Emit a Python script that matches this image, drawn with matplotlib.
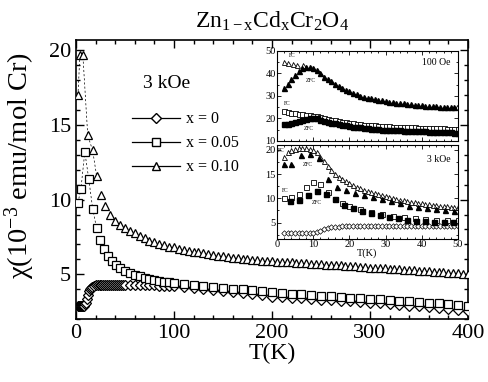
import matplotlib
matplotlib.use("Agg")
import matplotlib.pyplot as plt
from matplotlib.ticker import MultipleLocator
from matplotlib.lines import Line2D

plt.rcParams['font.family'] = ['Liberation Serif', 'DejaVu Serif']
plt.rcParams['mathtext.fontset'] = 'custom'
plt.rcParams['mathtext.rm'] = 'Liberation Serif'
plt.rcParams['mathtext.it'] = 'Liberation Serif:italic'

# ---------------- main panel data (3 kOe) ----------------
T_x0 = [2, 3, 4, 5, 6, 7, 8, 9, 10, 11, 12, 13, 14, 15, 16, 18, 20, 22, 24, 26, 28, 30,
        32, 34, 36, 38, 40, 42, 44, 46, 48, 50, 55, 60, 65, 70, 75, 80, 85, 90, 95, 100,
        110, 120, 130, 140, 150, 160, 170, 180, 190, 200, 210, 220, 230, 240, 250, 260,
        270, 280, 290, 300, 310, 320, 330, 340, 350, 360, 370, 380, 390, 400]
chi_x0 = [2.9, 2.85, 2.85, 2.85, 2.85, 2.9, 2.9, 3.0, 3.1, 3.35, 3.6, 3.85, 4.0, 4.1, 4.15,
          4.2, 4.25, 4.28, 4.3, 4.3, 4.3, 4.3, 4.3, 4.3, 4.3, 4.3, 4.3, 4.3, 4.3, 4.3, 4.3,
          4.3, 4.3, 4.3, 4.3, 4.3, 4.28, 4.26, 4.24, 4.22, 4.2, 4.18,
          4.12, 4.06, 4.0, 3.93, 3.86, 3.79, 3.72, 3.65, 3.58, 3.5, 3.46, 3.42, 3.38, 3.34,
          3.3, 3.26, 3.22, 3.18, 3.14, 3.1, 3.05, 3.0, 2.95, 2.9, 2.85, 2.8, 2.74, 2.68,
          2.62, 2.56]

T_x05 = [2, 5, 9, 13, 17, 21, 25, 29, 33, 37, 41, 45, 50, 55, 60, 65, 70, 75, 80, 85, 90,
         95, 100, 110, 120, 130, 140, 150, 160, 170, 180, 190, 200, 210, 220, 230, 240,
         250, 260, 270, 280, 290, 300, 310, 320, 330, 340, 350, 360, 370, 380, 390, 400]
chi_x05 = [9.8, 10.7, 13.2, 11.4, 9.4, 8.1, 7.3, 6.7, 6.25, 5.9, 5.65, 5.45, 5.25, 5.1,
           4.97, 4.87, 4.78, 4.7, 4.63, 4.57, 4.51, 4.46, 4.42, 4.35, 4.28, 4.22, 4.16,
           4.1, 4.04, 3.98, 3.92, 3.86, 3.8, 3.75, 3.7, 3.65, 3.6, 3.56, 3.52, 3.48, 3.44,
           3.4, 3.36, 3.32, 3.28, 3.24, 3.2, 3.15, 3.1, 3.05, 3.0, 2.95, 2.9]

T_x10 = [2, 4, 7, 12, 17, 21, 26, 30, 35, 40, 45, 50, 55, 60, 65, 70, 75, 80, 85, 90, 95,
         100, 105, 110, 115, 120, 125, 130, 135, 140, 145, 150, 155, 160, 165, 170, 175,
         180, 185, 190, 195, 200, 205, 210, 215, 220, 225, 230, 235, 240, 245, 250, 255,
         260, 265, 270, 275, 280, 285, 290, 295, 300, 305, 310, 315, 320, 325, 330, 335,
         340, 345, 350, 355, 360, 365, 370, 375, 380, 385, 390, 395, 400]
chi_x10 = [17.0, 19.7, 19.7, 14.3, 13.3, 11.6, 10.3, 9.6, 9.0, 8.6, 8.3, 8.1, 7.9, 7.75,
           7.55, 7.4, 7.25, 7.15, 7.05, 6.95, 6.85,
           6.80, 6.72, 6.65, 6.58, 6.52, 6.46, 6.40, 6.35, 6.30, 6.25, 6.20, 6.16, 6.12,
           6.08, 6.04, 6.01, 5.98, 5.95, 5.92, 5.89, 5.87,
           5.85, 5.83, 5.81, 5.79, 5.77, 5.75, 5.73, 5.71, 5.69, 5.67, 5.65, 5.63, 5.61,
           5.59, 5.57, 5.55, 5.53, 5.51, 5.48, 5.45,
           5.43, 5.41, 5.39, 5.37, 5.35, 5.33, 5.31, 5.29, 5.27, 5.25, 5.22, 5.20, 5.18,
           5.15, 5.13, 5.11, 5.08, 5.06, 5.03, 5.0]

legend_labels = ['x = 0', 'x = 0.05', 'x = 0.10']

# ---------------- inset, 100 Oe ----------------
T_i1 = [2, 3, 4, 5, 6, 7, 8, 9, 10, 11, 12, 13, 14, 15, 16, 17, 18, 19, 20, 21, 22, 23, 24,
        25, 26, 27, 28, 29, 30, 31, 32, 33, 34, 35, 36, 37, 38, 39, 40, 41, 42, 43, 44, 45,
        46, 47, 48, 49]
zfc_tri_100 = [33.5, 35.5, 37.5, 39.5, 41, 42.3, 43, 43, 42.5, 41.5, 40, 38.5, 37.5, 36.5,
               35.5, 34.5, 33.5, 32.8, 32, 31.3, 30.7, 30.2, 29.7, 29.3, 29, 28.7, 28.4,
               28.1, 27.8, 27.5, 27.3, 27.1, 26.9, 26.7, 26.5, 26.3, 26.1, 26.0, 25.8,
               25.7, 25.6, 25.5, 25.4, 25.3, 25.2, 25.1, 25.0, 24.9]
T_fc_tri_100 = [1.8, 3.0, 4.3, 5.6, 7.2, 49.8]
fc_tri_100 = [45.2, 44.6, 44.2, 43.6, 43.6, 25.2]

T_i1s = [2, 3, 4, 5, 6, 7, 8, 9, 10, 11, 12, 13, 14, 15, 16, 17, 18, 19, 20, 21, 22, 23,
         24, 25, 26, 27, 28, 29, 30, 31, 32, 33, 34, 35, 36, 37, 38, 39, 40, 41, 42, 43,
         44, 45, 46, 47, 48, 49, 50]
fc_sq_100 = [23.5, 23.0, 22.6, 22.3, 22.1, 21.9, 21.7, 21.5, 21.3, 21.0, 20.6, 20.2, 19.8,
             19.5, 19.2, 18.9, 18.6, 18.3, 18.1, 17.9, 17.7, 17.5, 17.3, 17.1, 17.0, 16.9,
             16.8, 16.7, 16.6, 16.5, 16.4, 16.35, 16.3, 16.2, 16.15, 16.1, 16.0, 15.95,
             15.9, 15.85, 15.8, 15.75, 15.7, 15.65, 15.6, 15.55, 15.5, 15.45, 15.4]
zfc_sq_100 = [17.5, 17.7, 18.0, 18.4, 18.8, 19.2, 19.6, 20.0, 20.3, 20.0, 19.5, 19.0, 18.5,
              18.1, 17.8, 17.5, 17.2, 16.9, 16.6, 16.4, 16.2, 16.0, 15.8, 15.6, 15.45,
              15.3, 15.2, 15.1, 15.0, 14.9, 14.8, 14.75, 14.7, 14.6, 14.55, 14.5, 14.4,
              14.35, 14.3, 14.25, 14.2, 14.1, 14.05, 14.0, 13.95, 13.9, 13.8, 13.75, 13.7]

# ---------------- inset, 3 kOe ----------------
T_i2 = [2, 3, 4, 5, 6, 7, 8, 9, 10, 11, 12, 13, 14, 15, 16, 17, 18, 19, 20, 21, 22, 23,
        24, 25, 26, 27, 28, 29, 30, 31, 32, 33, 34, 35, 36, 37, 38, 39, 40, 41, 42, 43,
        44, 45, 46, 47, 48, 49, 50]
fc_tri_3k = [18.6, 19.5, 20.0, 20.2, 20.3, 20.3, 20.3, 20.2, 20.0, 19.5, 18.6, 17.6, 16.6,
             15.8, 15.1, 14.5, 14.0, 13.5, 13.1, 12.7, 12.4, 12.1, 11.8, 11.5, 11.3, 11.0,
             10.8, 10.6, 10.4, 10.2, 10.05, 9.9, 9.75, 9.6, 9.45, 9.3, 9.2, 9.1, 9.0, 8.9,
             8.8, 8.7, 8.6, 8.5, 8.45, 8.4, 8.3, 8.25, 8.2]
dia_3k = [2.9, 2.9, 2.9, 2.9, 2.9, 2.9, 2.9, 2.9, 2.9, 3.0, 3.3, 3.7, 3.95, 4.05, 4.1, 4.15,
          4.2, 4.2, 4.2, 4.2, 4.2, 4.2, 4.2, 4.2, 4.2, 4.2, 4.2, 4.2, 4.2, 4.2, 4.2, 4.2,
          4.2, 4.2, 4.2, 4.2, 4.2, 4.2, 4.2, 4.2, 4.2, 4.2, 4.2, 4.2, 4.2, 4.2, 4.2, 4.2,
          4.2]
T_zfc_tri_3k = [2, 4, 6.5, 9, 11.5, 14, 16.5, 19, 21.5, 24, 26.5, 29, 31.5, 34, 36.5, 39,
                41.5, 44, 46.5, 49]
zfc_tri_3k = [17.0, 17.0, 19.0, 19.1, 18.3, 14.0, 12.4, 11.7, 11.1, 10.6, 10.2, 9.8, 9.4,
              9.0, 8.5, 8.2, 7.9, 7.7, 7.5, 7.3]
T_fc_sq_3k = [2, 4, 6, 8, 10, 12, 14, 16, 18, 20, 23, 26, 29, 32, 35, 38, 41, 44, 47, 50]
fc_sq_3k = [10.0, 10.2, 10.9, 12.4, 13.4, 13.0, 11.2, 9.9, 9.0, 8.5, 7.8, 7.2, 6.8, 6.4,
            6.1, 5.9, 5.75, 5.6, 5.55, 5.5]
T_zfc_sq_3k = [3.5, 6, 8.5, 11, 13.5, 16, 18.5, 21, 23.5, 26, 28.5, 31, 33.5, 36, 38.5, 41,
               43.5, 46, 48.5]
zfc_sq_3k = [9.5, 9.7, 10.6, 11.6, 10.8, 9.8, 8.7, 8.0, 7.4, 7.0, 6.6, 6.2, 5.9, 5.6, 5.4,
             5.3, 5.2, 5.15, 5.1]

# ---------------- figure ----------------
fig = plt.figure(figsize=(4.89, 3.82), dpi=100)
ax = fig.add_axes([0.1554, 0.1649, 0.8016, 0.7304])

mk = dict(mfc='white', mec='black', mew=0.9, ls='none')
ax.plot(T_x0, chi_x0, marker='D', ms=4.8, **mk, zorder=3)
ax.plot(T_x05, chi_x05, marker='s', ms=5.8, **mk, zorder=3)
ax.plot(T_x10, chi_x10, marker='^', ms=5.9, **mk, zorder=3)
# thin dashed connections at low temperature
ax.plot(T_x05[:6], chi_x05[:6], color='black', lw=0.5, ls=(0, (3, 3)), zorder=2)
ax.plot(T_x10[:6], chi_x10[:6], color='black', lw=0.5, ls=(0, (3, 3)), zorder=2)

ax.set_xlim(0, 400)
ax.set_ylim(2.0, 20.7)
ax.xaxis.set_major_locator(MultipleLocator(100))
ax.xaxis.set_minor_locator(MultipleLocator(20))
ax.yaxis.set_major_locator(MultipleLocator(5))
ax.yaxis.set_minor_locator(MultipleLocator(1))
ax.tick_params(which='both', direction='in', top=True, right=True, labelsize=16, width=1)
ax.tick_params(which='major', length=6)
ax.tick_params(which='minor', length=3)
for s in ax.spines.values():
    s.set_linewidth(1.2)
ax.set_xlabel('T(K)', fontsize=17, labelpad=0)
ax.set_ylabel('χ(10$^{\\mathrm{-3}}$ emu/mol Cr)', fontsize=20.5)
ax.yaxis.set_label_coords(-0.10, 0.55)
ax.set_title(r'Zn$_{\mathrm{1-x}}$Cd$_{\mathrm{x}}$Cr$_{\mathrm{2}}$O$_{\mathrm{4}}$',
             fontsize=17, pad=9)

ax.text(0.23, 0.845, '3 kOe', transform=ax.transAxes, fontsize=14, ha='center', va='center')
handles = [Line2D([], [], color='black', lw=0.9, marker=m, ms=s, mfc='white', mec='black')
           for m, s in (('D', 4.8), ('s', 5.8), ('^', 5.9))]
ax.legend(handles, legend_labels, loc='upper left', bbox_to_anchor=(0.115, 0.785),
          frameon=False, fontsize=11.5, handlelength=3.0, handletextpad=0.35,
          labelspacing=0.5, borderpad=0.2)

# ---------------- inset panels ----------------
ins1 = fig.add_axes([0.5665, 0.6309, 0.3701, 0.2356])
ins2 = fig.add_axes([0.5665, 0.3743, 0.3701, 0.2461])

ims = 3.6
ins1.plot(T_fc_tri_100, fc_tri_100, marker='^', ms=ims, mfc='white', mec='black', mew=0.6, ls='none')
ins1.plot(T_i1, zfc_tri_100, marker='^', ms=ims, color='black', ls='none')
ins1.plot(T_i1s, fc_sq_100, marker='s', ms=ims, mfc='white', mec='black', mew=0.6, ls='none')
ins1.plot(T_i1s, zfc_sq_100, marker='s', ms=ims, color='black', ls='none')
ins1.set_xlim(0, 50)
ins1.set_ylim(10, 50)
ins1.xaxis.set_major_locator(MultipleLocator(10))
ins1.xaxis.set_minor_locator(MultipleLocator(2))
ins1.yaxis.set_major_locator(MultipleLocator(10))
ins1.yaxis.set_minor_locator(MultipleLocator(5))
ins1.tick_params(which='both', direction='in', top=True, right=True, labelbottom=False,
                 labelsize=7.5, pad=1, width=0.6)
ins1.tick_params(which='major', length=3)
ins1.tick_params(which='minor', length=1.5)
ins1.text(0.96, 0.84, '100 Oe', transform=ins1.transAxes, fontsize=7, ha='right')
ins1.text(3.2, 47.3, 'FC', fontsize=4, ha='left')
ins1.text(8.0, 36.0, 'ZFC', fontsize=4, ha='left')
ins1.text(2.0, 26.2, 'FC', fontsize=4, ha='left')
ins1.text(7.5, 14.8, 'ZFC', fontsize=4, ha='left')

ins2.plot(T_i2, dia_3k, marker='D', ms=2.8, mfc='white', mec='black', mew=0.5, ls='none')
ins2.plot(T_i2, fc_tri_3k, marker='^', ms=ims, mfc='white', mec='black', mew=0.6, ls='none')
ins2.plot(T_zfc_tri_3k, zfc_tri_3k, marker='^', ms=ims, color='black', ls='none')
ins2.plot(T_fc_sq_3k, fc_sq_3k, marker='s', ms=ims, mfc='white', mec='black', mew=0.6, ls='none')
ins2.plot(T_zfc_sq_3k, zfc_sq_3k, marker='s', ms=ims, color='black', ls='none')
ins2.set_xlim(0, 50)
ins2.set_ylim(1.6, 21)
ins2.xaxis.set_major_locator(MultipleLocator(10))
ins2.xaxis.set_minor_locator(MultipleLocator(2))
ins2.yaxis.set_major_locator(MultipleLocator(5))
ins2.yaxis.set_minor_locator(MultipleLocator(2.5))
ins2.tick_params(which='both', direction='in', top=True, right=True, labelsize=7.5, pad=1,
                 width=0.6)
ins2.tick_params(which='major', length=3)
ins2.tick_params(which='minor', length=1.5)
ins2.set_xlabel('T(K)', fontsize=7.5, labelpad=-1)
ins2.text(0.96, 0.82, '3 kOe', transform=ins2.transAxes, fontsize=7, ha='right')
ins2.text(0.3, 19.6, 'FC', fontsize=4, ha='left')
ins2.text(7.0, 16.6, 'ZFC', fontsize=4, ha='left')
ins2.text(1.2, 11.3, 'FC', fontsize=4, ha='left')
ins2.text(9.5, 8.8, 'ZFC', fontsize=4, ha='left')

fig.savefig('out.png', dpi=100)
